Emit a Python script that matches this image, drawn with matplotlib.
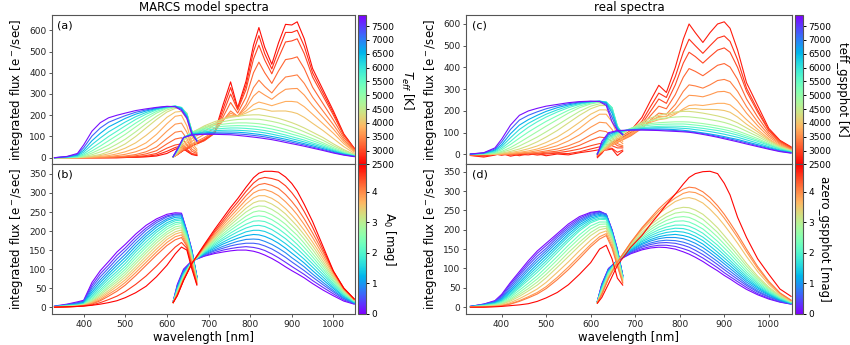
import matplotlib
matplotlib.use("Agg")
import matplotlib.pyplot as plt
from matplotlib import cm, colors

# sampling nodes of the BP and RP spectra (nm)
BP_WL = [330, 360, 385, 400, 420, 440, 460, 480, 500, 525, 550, 575, 600, 620, 635, 648, 660, 672]
RP_WL = [615, 625, 640, 660, 690, 715, 735, 753, 770, 790, 808, 821, 835, 852, 868, 885, 900, 913,
         930, 950, 975, 1000, 1025, 1050]

# (a) MARCS models, varying Teff
MARCS_TEFF = [2600, 2800, 3000, 3200, 3400, 3600, 3800, 4000, 4300, 4600, 4900, 5300, 5700, 6100,
              6600, 7200, 7800]
MARCS_TEFF_BP = [
    [0, 0, 0, 0, 0, 0, 0, 0, 1, 2, 4, 8, 20, 40, 50, 30, 15, 10],
    [0, 0, 0, 0, 0, 0, 0, 0, 1, 3, 6, 13, 30, 48, 56, 34, 17, 12],
    [0, 0, 0, 0, 0, 0, 0, 1, 2, 5, 10, 20, 45, 60, 65, 40, 20, 15],
    [0, 0, 0, 0, 0, 0, 1, 3, 5, 9, 18, 33, 65, 88, 94, 62, 30, 20],
    [0, 0, 0, 0, 0, 1, 2, 5, 8, 15, 28, 50, 90, 120, 125, 90, 40, 25],
    [0, 0, 0, 0, 1, 3, 5, 10, 16, 28, 46, 78, 125, 158, 163, 120, 55, 32],
    [0, 0, 0, 1, 3, 6, 10, 18, 28, 45, 70, 110, 160, 195, 200, 150, 70, 40],
    [0, 0, 0, 2, 5, 10, 18, 30, 45, 70, 105, 145, 190, 215, 218, 185, 100, 60],
    [0, 0, 1, 3, 8, 15, 28, 45, 65, 100, 140, 180, 215, 232, 232, 210, 125, 80],
    [0, 0, 2, 5, 14, 27, 43, 64, 87, 122, 160, 195, 225, 237, 234, 208, 125, 81],
    [0, 1, 3, 8, 22, 40, 60, 85, 110, 145, 180, 210, 232, 240, 235, 205, 125, 82],
    [0, 1, 4, 12, 32, 55, 80, 105, 130, 163, 193, 218, 235, 242, 236, 205, 125, 82],
    [0, 2, 6, 18, 45, 72, 100, 125, 150, 180, 205, 225, 238, 243, 237, 205, 125, 82],
    [0, 3, 9, 26, 62, 93, 122, 145, 168, 193, 213, 229, 239, 243, 235, 200, 122, 81],
    [0, 4, 12, 35, 80, 115, 145, 165, 185, 205, 220, 232, 240, 242, 232, 195, 120, 80],
    [0, 5, 16, 47, 102, 140, 167, 183, 198, 214, 225, 235, 241, 241, 228, 190, 115, 79],
    [0, 6, 20, 60, 125, 165, 188, 200, 210, 222, 230, 237, 242, 240, 222, 185, 110, 78],
]
MARCS_TEFF_RP = [
    [5, 15, 35, 55, 85, 120, 250, 357, 235, 360, 530, 613, 520, 440, 540, 628, 625, 640, 560, 420, 320, 220, 112, 45],
    [4, 15, 35, 55, 82, 118, 230, 330, 230, 340, 500, 575, 490, 418, 505, 590, 590, 600, 525, 400, 305, 210, 108, 44],
    [3, 15, 35, 55, 80, 115, 210, 300, 225, 320, 465, 530, 460, 395, 470, 545, 550, 560, 490, 380, 290, 200, 105, 42],
    [3, 15, 37, 60, 88, 120, 192, 260, 210, 285, 400, 450, 400, 350, 408, 462, 467, 475, 420, 332, 255, 178, 95, 38],
    [3, 15, 40, 65, 95, 125, 175, 220, 195, 250, 330, 365, 335, 305, 345, 380, 385, 390, 350, 285, 220, 155, 85, 34],
    [3, 16, 47, 77, 110, 140, 177, 210, 195, 235, 290, 313, 295, 275, 300, 322, 325, 326, 295, 245, 190, 135, 76, 31],
    [3, 18, 55, 90, 125, 155, 180, 200, 195, 220, 250, 262, 255, 245, 255, 265, 265, 262, 240, 205, 160, 115, 66, 27],
    [3, 21, 66, 102, 137, 162, 181, 195, 195, 210, 226, 232, 227, 219, 220, 220, 215, 208, 190, 162, 128, 90, 52, 21],
    [4, 25, 80, 118, 150, 170, 182, 190, 195, 200, 202, 202, 198, 192, 185, 175, 165, 155, 140, 120, 95, 65, 38, 16],
    [4, 28, 86, 119, 145, 161, 170, 176, 180, 182, 182, 181, 177, 171, 164, 154, 145, 136, 122, 105, 82, 56, 33, 14],
    [4, 30, 92, 120, 140, 152, 158, 162, 164, 164, 162, 160, 156, 150, 142, 133, 124, 116, 105, 90, 70, 48, 28, 12],
    [5, 33, 94, 118, 134, 143, 148, 150, 151, 150, 148, 145, 141, 135, 128, 120, 111, 104, 94, 80, 62, 42, 24, 10],
    [5, 35, 95, 115, 128, 135, 138, 140, 140, 138, 135, 132, 128, 122, 115, 107, 99, 92, 83, 70, 55, 37, 21, 9],
    [5, 37, 95, 112, 122, 127, 129, 130, 129, 127, 124, 121, 117, 111, 104, 97, 89, 83, 74, 63, 49, 33, 18, 8],
    [5, 38, 95, 110, 117, 120, 121, 121, 120, 117, 113, 110, 106, 100, 94, 87, 80, 74, 66, 56, 43, 29, 16, 7],
    [5, 39, 95, 108, 113, 115, 115, 114, 112, 109, 105, 102, 98, 92, 86, 79, 73, 67, 60, 50, 38, 25, 14, 6],
    [5, 40, 95, 107, 110, 110, 109, 108, 105, 101, 97, 94, 90, 85, 79, 72, 66, 61, 54, 45, 34, 22, 12, 5],
]

# (b) MARCS models, varying A0
MARCS_A0 = [0.0, 0.3, 0.6, 0.9, 1.2, 1.5, 1.8, 2.1, 2.4, 2.7, 3.0, 3.3, 3.6, 3.9, 4.2, 4.55, 4.9]
MARCS_A0_BP = [
    [3, 8, 14, 18, 65, 96, 120, 145, 165, 192, 215, 232, 244, 248, 247, 200, 150, 80],
    [2, 7, 12, 16, 58, 88, 111, 136, 156, 184, 208, 227, 240, 245, 245, 199, 149, 80],
    [2, 6, 11, 15, 52, 80, 103, 127, 148, 176, 202, 222, 237, 243, 243, 198, 148, 80],
    [2, 5, 9, 13, 46, 72, 95, 118, 139, 168, 194, 216, 232, 240, 240, 196, 146, 79],
    [2, 5, 8, 12, 40, 65, 88, 110, 131, 160, 187, 210, 228, 236, 237, 195, 145, 78],
    [1, 4, 7, 10, 35, 58, 81, 102, 123, 152, 180, 203, 222, 231, 233, 192, 142, 77],
    [1, 4, 6, 9, 30, 52, 74, 94, 115, 145, 172, 197, 217, 227, 229, 190, 140, 76],
    [1, 3, 5, 8, 26, 46, 67, 87, 107, 137, 164, 190, 211, 222, 224, 186, 137, 74],
    [1, 3, 5, 7, 22, 41, 61, 80, 100, 129, 157, 183, 205, 217, 220, 183, 135, 73],
    [1, 2, 4, 6, 19, 36, 55, 73, 93, 121, 149, 176, 198, 211, 214, 180, 131, 71],
    [1, 2, 4, 6, 16, 32, 50, 67, 86, 114, 142, 169, 192, 205, 209, 176, 128, 70],
    [0, 2, 3, 5, 14, 28, 44, 61, 79, 106, 134, 161, 185, 198, 203, 172, 124, 68],
    [0, 1, 3, 5, 12, 24, 39, 55, 72, 99, 126, 153, 178, 192, 197, 168, 120, 66],
    [0, 1, 2, 4, 10, 20, 34, 48, 65, 91, 118, 145, 170, 185, 190, 164, 116, 64],
    [0, 1, 2, 4, 8, 17, 29, 42, 58, 83, 110, 137, 162, 177, 183, 160, 112, 62],
    [0, 1, 2, 3, 6, 12, 20, 29, 41, 60, 82, 108, 136, 158, 170, 155, 106, 60],
    [0, 1, 2, 3, 5, 8, 12, 17, 25, 38, 55, 80, 110, 140, 158, 150, 100, 58],
]
MARCS_A0_RP = [
    [15, 60, 100, 122, 134, 141, 145, 148, 150, 150, 147, 143, 137, 128, 118, 106, 96, 88, 77, 62, 45, 30, 16, 8],
    [15, 57, 97, 121, 135, 144, 150, 154, 157, 159, 157, 154, 149, 140, 130, 118, 107, 98, 86, 70, 52, 35, 19, 9],
    [14, 55, 95, 121, 137, 148, 155, 161, 165, 168, 168, 166, 161, 153, 143, 131, 119, 109, 96, 79, 59, 40, 22, 10],
    [14, 52, 92, 120, 139, 151, 160, 167, 173, 178, 179, 178, 173, 165, 155, 143, 130, 120, 106, 87, 65, 44, 24, 11],
    [14, 50, 90, 120, 141, 155, 166, 174, 181, 188, 191, 190, 186, 178, 168, 155, 142, 131, 116, 96, 72, 49, 27, 12],
    [13, 48, 88, 119, 142, 159, 171, 181, 189, 198, 202, 202, 199, 191, 180, 167, 154, 142, 126, 105, 79, 53, 29, 13],
    [13, 46, 86, 119, 144, 163, 177, 188, 198, 208, 214, 215, 212, 204, 193, 180, 166, 154, 136, 114, 86, 58, 32, 14],
    [13, 44, 84, 118, 146, 167, 182, 195, 206, 218, 226, 227, 225, 217, 206, 192, 178, 165, 146, 123, 93, 62, 34, 15],
    [13, 42, 82, 118, 148, 171, 188, 202, 215, 229, 238, 240, 238, 230, 219, 205, 190, 177, 157, 132, 100, 67, 37, 16],
    [13, 40, 80, 117, 150, 175, 193, 209, 223, 239, 250, 253, 251, 243, 232, 218, 202, 189, 168, 141, 107, 71, 39, 17],
    [13, 39, 78, 117, 152, 179, 199, 216, 232, 250, 262, 266, 265, 257, 246, 231, 215, 201, 179, 151, 114, 76, 42, 18],
    [12, 37, 76, 116, 154, 183, 204, 223, 240, 260, 274, 279, 279, 271, 260, 245, 228, 213, 190, 161, 121, 80, 44, 18],
    [12, 36, 75, 116, 156, 187, 210, 230, 249, 271, 287, 293, 293, 286, 275, 259, 242, 226, 202, 171, 129, 85, 46, 19],
    [12, 34, 73, 115, 158, 191, 216, 238, 258, 282, 300, 307, 309, 303, 293, 277, 260, 243, 217, 183, 137, 89, 47, 20],
    [12, 33, 72, 115, 160, 196, 222, 246, 267, 293, 313, 322, 325, 320, 312, 296, 278, 260, 232, 195, 145, 93, 49, 21],
    [12, 31, 71, 115, 162, 200, 228, 254, 276, 304, 326, 337, 341, 338, 333, 319, 301, 282, 251, 210, 152, 94, 50, 21],
    [12, 30, 70, 115, 165, 205, 235, 262, 285, 315, 340, 352, 357, 357, 355, 342, 325, 305, 270, 225, 160, 95, 50, 22],
]

# (c) real spectra, coloured by teff_gspphot
REAL_TEFF = [2700, 2850, 3000, 3200, 3400, 3600, 3800, 4000, 4300, 4600, 4900, 5300, 5700, 6100,
             6600, 7200, 7800]
REAL_TEFF_BP = [
    [-5, -12, -3, 5, -8, 0, -2, 4, -6, 2, -2, 8, 15, 22, 20, 25, -5, 15],
    [-4, -8, 2, -4, 3, -6, 4, -3, 2, 6, 4, 12, 25, 35, 30, 28, 10, 20],
    [-3, -5, 0, 2, -3, 3, 5, 2, 6, 8, 15, 25, 40, 50, 45, 40, 30, 30],
    [-2, -2, 0, 1, 0, 3, 5, 6, 10, 15, 26, 42, 65, 80, 76, 60, 40, 35],
    [-2, 0, 0, 1, 2, 4, 6, 10, 16, 25, 40, 60, 90, 110, 105, 80, 50, 40],
    [-1, 0, 1, 2, 3, 7, 10, 17, 26, 40, 62, 90, 125, 148, 145, 115, 70, 50],
    [0, 0, 1, 2, 5, 10, 16, 25, 38, 58, 85, 120, 160, 185, 185, 150, 90, 60],
    [0, 1, 2, 4, 9, 16, 26, 39, 55, 80, 112, 148, 185, 205, 205, 175, 105, 72],
    [0, 1, 3, 6, 14, 25, 40, 58, 80, 110, 145, 180, 210, 225, 225, 200, 120, 85],
    [0, 2, 4, 10, 22, 39, 59, 80, 104, 135, 167, 198, 222, 233, 232, 208, 125, 88],
    [0, 2, 6, 14, 32, 55, 80, 105, 130, 160, 190, 215, 232, 240, 238, 215, 130, 90],
    [1, 3, 9, 21, 46, 75, 103, 128, 152, 178, 203, 223, 236, 243, 240, 215, 130, 92],
    [1, 4, 12, 28, 60, 95, 125, 150, 172, 195, 215, 230, 240, 245, 242, 215, 130, 95],
    [1, 5, 16, 36, 77, 115, 143, 165, 185, 205, 222, 234, 242, 245, 240, 203, 125, 93],
    [1, 6, 20, 45, 95, 135, 160, 180, 198, 215, 228, 238, 243, 245, 238, 190, 120, 92],
    [2, 7, 25, 57, 115, 158, 180, 196, 210, 223, 233, 241, 244, 244, 232, 170, 115, 91],
    [2, 8, 30, 70, 135, 180, 200, 212, 222, 230, 238, 243, 245, 243, 225, 150, 110, 90],
]
REAL_TEFF_RP = [
    [-15, 5, 45, 70, 110, 170, 250, 318, 285, 400, 530, 600, 560, 515, 560, 600, 610, 580, 480, 330, 225, 120, 65, 35],
    [-10, 8, 42, 66, 102, 152, 222, 282, 262, 358, 470, 530, 500, 465, 500, 535, 545, 520, 435, 305, 205, 112, 62, 32],
    [-8, 10, 40, 62, 95, 140, 200, 255, 235, 320, 420, 470, 450, 420, 450, 480, 490, 470, 400, 290, 195, 110, 60, 30],
    [-5, 12, 37, 58, 90, 130, 180, 222, 210, 275, 355, 395, 382, 362, 385, 410, 418, 402, 345, 255, 172, 100, 55, 28],
    [-3, 14, 35, 55, 85, 120, 160, 190, 185, 230, 290, 320, 315, 305, 320, 340, 345, 335, 290, 220, 150, 90, 50, 25],
    [-1, 14, 35, 57, 90, 122, 154, 175, 175, 208, 250, 272, 270, 265, 275, 288, 290, 282, 245, 190, 132, 81, 45, 22],
    [0, 15, 35, 60, 95, 125, 148, 160, 165, 185, 210, 225, 228, 225, 230, 235, 235, 228, 200, 160, 115, 72, 40, 20],
    [2, 17, 40, 70, 106, 136, 158, 170, 176, 190, 204, 211, 211, 207, 207, 206, 202, 194, 172, 139, 104, 67, 38, 19],
    [3, 20, 45, 80, 118, 148, 168, 180, 188, 195, 198, 198, 195, 190, 184, 177, 169, 160, 145, 122, 93, 62, 36, 18],
    [4, 22, 52, 88, 119, 142, 155, 163, 168, 172, 174, 173, 170, 166, 160, 154, 147, 139, 126, 107, 83, 56, 33, 16],
    [5, 25, 60, 95, 120, 135, 142, 146, 148, 150, 150, 149, 146, 142, 137, 131, 125, 119, 108, 93, 73, 50, 30, 15],
    [5, 27, 67, 98, 118, 129, 135, 138, 139, 140, 140, 138, 135, 131, 126, 120, 114, 108, 98, 84, 66, 46, 27, 13],
    [5, 30, 75, 100, 115, 123, 127, 129, 130, 130, 129, 127, 124, 120, 115, 110, 104, 98, 89, 76, 60, 42, 25, 12],
    [4, 35, 82, 103, 114, 119, 122, 123, 123, 122, 120, 118, 114, 110, 105, 99, 93, 87, 79, 67, 52, 36, 21, 10],
    [3, 40, 90, 107, 113, 116, 117, 117, 116, 114, 111, 108, 104, 99, 94, 88, 82, 76, 69, 58, 45, 31, 18, 9],
    [2, 50, 95, 108, 112, 114, 114, 113, 112, 110, 107, 105, 101, 96, 90, 83, 77, 71, 63, 53, 40, 27, 15, 7],
    [0, 60, 100, 110, 112, 112, 111, 110, 108, 106, 104, 102, 98, 92, 86, 79, 72, 66, 58, 48, 36, 24, 13, 6],
]

# (d) real spectra, coloured by azero_gspphot
REAL_A0 = [0.05, 0.3, 0.5, 0.75, 1.0, 1.25, 1.5, 1.75, 2.0, 2.3, 2.6, 2.9, 3.2, 3.55, 3.9, 4.1, 4.85]
REAL_A0_BP = [
    [2, 8, 17, 33, 64, 92, 120, 145, 165, 190, 215, 234, 245, 248, 240, 200, 150, 82],
    [2, 8, 15, 30, 60, 87, 114, 139, 159, 185, 210, 230, 243, 247, 240, 199, 149, 82],
    [2, 7, 14, 27, 55, 82, 108, 132, 152, 180, 205, 226, 240, 245, 240, 198, 148, 82],
    [2, 6, 13, 24, 50, 76, 101, 125, 146, 174, 200, 222, 237, 243, 238, 196, 146, 81],
    [2, 6, 12, 22, 45, 70, 95, 118, 140, 168, 195, 218, 234, 240, 236, 195, 145, 80],
    [1, 5, 11, 19, 41, 64, 88, 111, 133, 161, 189, 213, 230, 237, 234, 193, 143, 79],
    [1, 5, 10, 17, 37, 59, 82, 104, 126, 155, 183, 208, 226, 234, 232, 192, 142, 78],
    [1, 4, 9, 15, 33, 54, 76, 97, 119, 148, 176, 202, 222, 230, 229, 190, 140, 77],
    [1, 4, 8, 14, 30, 50, 70, 90, 112, 141, 170, 197, 218, 227, 226, 188, 138, 76],
    [1, 3, 7, 12, 26, 44, 62, 81, 103, 131, 160, 187, 210, 220, 220, 184, 135, 74],
    [1, 3, 6, 10, 22, 38, 55, 73, 94, 122, 151, 178, 202, 214, 215, 180, 132, 73],
    [1, 2, 5, 8, 19, 33, 48, 65, 85, 112, 141, 168, 193, 207, 209, 176, 128, 71],
    [0, 2, 4, 7, 16, 28, 42, 57, 76, 103, 131, 159, 185, 200, 204, 172, 125, 70],
    [0, 1, 3, 5, 12, 22, 34, 47, 64, 90, 117, 146, 173, 191, 197, 165, 117, 67],
    [0, 1, 2, 4, 9, 17, 27, 38, 53, 77, 104, 133, 162, 182, 190, 158, 110, 64],
    [0, 1, 2, 3, 8, 15, 24, 34, 48, 71, 97, 126, 156, 176, 185, 152, 106, 62],
    [0, 0, 1, 2, 4, 6, 9, 15, 24, 38, 58, 85, 115, 150, 160, 125, 75, 57],
]
REAL_A0_RP = [
    [15, 60, 100, 120, 138, 148, 153, 155, 154, 150, 143, 137, 129, 118, 106, 94, 82, 73, 60, 46, 32, 21, 13, 8],
    [15, 58, 99, 120, 140, 151, 157, 160, 160, 157, 151, 146, 138, 127, 115, 102, 89, 79, 66, 51, 35, 23, 14, 8],
    [15, 57, 98, 121, 142, 155, 162, 166, 167, 165, 160, 155, 147, 136, 124, 110, 97, 86, 72, 56, 39, 26, 16, 9],
    [14, 55, 96, 121, 144, 158, 166, 171, 173, 172, 168, 163, 156, 145, 132, 118, 104, 93, 78, 60, 42, 28, 17, 9],
    [14, 53, 95, 121, 146, 162, 171, 177, 180, 180, 177, 172, 165, 154, 141, 126, 112, 100, 84, 65, 46, 31, 18, 10],
    [14, 51, 93, 121, 148, 165, 175, 182, 186, 188, 185, 181, 174, 163, 149, 134, 119, 107, 90, 70, 50, 33, 19, 10],
    [14, 50, 92, 121, 150, 169, 180, 188, 193, 196, 194, 190, 183, 172, 158, 142, 127, 114, 96, 75, 53, 35, 21, 11],
    [13, 48, 90, 120, 152, 172, 185, 194, 200, 204, 203, 199, 192, 181, 167, 151, 135, 121, 102, 80, 57, 37, 22, 11],
    [13, 46, 89, 120, 154, 176, 190, 200, 207, 212, 212, 209, 202, 191, 176, 160, 143, 129, 109, 86, 61, 40, 24, 12],
    [13, 44, 87, 120, 156, 180, 195, 207, 215, 222, 223, 220, 213, 202, 187, 170, 153, 138, 117, 92, 65, 43, 25, 13],
    [13, 42, 85, 119, 158, 184, 201, 214, 224, 232, 234, 232, 225, 214, 199, 181, 163, 147, 125, 99, 70, 46, 27, 14],
    [12, 40, 83, 118, 160, 188, 207, 221, 233, 243, 246, 244, 238, 227, 211, 193, 174, 157, 134, 106, 75, 49, 28, 14],
    [12, 38, 80, 118, 162, 193, 213, 229, 242, 254, 258, 257, 251, 240, 224, 205, 185, 167, 143, 113, 80, 52, 30, 15],
    [12, 35, 77, 117, 165, 199, 222, 241, 257, 273, 281, 283, 279, 269, 253, 233, 212, 192, 165, 131, 92, 59, 33, 16],
    [11, 33, 74, 116, 167, 203, 227, 248, 265, 282, 294, 298, 296, 287, 272, 252, 230, 209, 180, 143, 100, 64, 36, 18],
    [11, 33, 74, 116, 167, 205, 231, 254, 272, 292, 305, 310, 308, 298, 283, 262, 240, 218, 188, 150, 105, 67, 37, 18],
    [10, 25, 60, 108, 155, 185, 215, 240, 265, 292, 318, 335, 345, 350, 351, 345, 320, 290, 232, 180, 125, 85, 47, 28],
]

TEFF_RANGE = (2500, 7900)
A0_RANGE = (0, 4.9)
LABEL_SIZE = 8.5
TICK_SIZE = 6.5
FRAME = "#555555"


def _style(ax):
    for spine in ax.spines.values():
        spine.set_color(FRAME)
        spine.set_linewidth(0.8)
    ax.tick_params(labelsize=TICK_SIZE, colors=FRAME, labelcolor="#222222",
                   width=0.7, length=2.5, pad=1.5)


def draw_panel(ax, cax, params, bp, rp, cmap, vrange, xlim, letter, clabel, ticks):
    norm = colors.Normalize(*vrange)
    sm = cm.ScalarMappable(norm=norm, cmap=cmap)
    for p, fbp, frp in zip(params, bp, rp):
        c = sm.to_rgba(p)
        ax.plot(BP_WL, fbp, color=c, lw=0.8)
        ax.plot(RP_WL, frp, color=c, lw=0.8)
    ax.set_xlim(*xlim)
    ax.set_ylabel("integrated flux [e$^-$/sec]", fontsize=LABEL_SIZE, labelpad=3)
    ax.text(0.018, 0.965, letter, transform=ax.transAxes, ha="left", va="top", fontsize=8)
    _style(ax)
    cb = plt.colorbar(sm, cax=cax)
    cb.set_ticks(ticks)
    cb.ax.tick_params(labelsize=TICK_SIZE, width=0.7, length=2.5, pad=1.5)
    cb.outline.set_edgecolor(FRAME)
    cb.set_label(clabel, rotation=270, va="bottom", fontsize=LABEL_SIZE, labelpad=3)


fig = plt.figure(figsize=(8.5, 3.45), dpi=100)
ax_a = fig.add_axes([0.0612, 0.5232, 0.3565, 0.4333])
ax_b = fig.add_axes([0.0612, 0.0899, 0.3565, 0.4333])
ax_c = fig.add_axes([0.5482, 0.5232, 0.3835, 0.4333])
ax_d = fig.add_axes([0.5482, 0.0899, 0.3835, 0.4333])
cax_a = fig.add_axes([0.4212, 0.5232, 0.0094, 0.4333])
cax_b = fig.add_axes([0.4212, 0.0899, 0.0094, 0.4333])
cax_c = fig.add_axes([0.9353, 0.5232, 0.0094, 0.4333])
cax_d = fig.add_axes([0.9353, 0.0899, 0.0094, 0.4333])

teff_ticks = list(range(2500, 7501, 500))
a0_ticks = [0, 1, 2, 3, 4]

draw_panel(ax_a, cax_a, MARCS_TEFF, MARCS_TEFF_BP, MARCS_TEFF_RP, "rainbow_r", TEFF_RANGE,
           (324, 1052), "(a)", r"$T_{eff}$ [K]", teff_ticks)
draw_panel(ax_b, cax_b, MARCS_A0, MARCS_A0_BP, MARCS_A0_RP, "rainbow", A0_RANGE,
           (324, 1052), "(b)", r"A$_0$ [mag]", a0_ticks)
draw_panel(ax_c, cax_c, REAL_TEFF, REAL_TEFF_BP, REAL_TEFF_RP, "rainbow_r", TEFF_RANGE,
           (320, 1052), "(c)", "teff_gspphot [K]", teff_ticks)
draw_panel(ax_d, cax_d, REAL_A0, REAL_A0_BP, REAL_A0_RP, "rainbow", A0_RANGE,
           (320, 1052), "(d)", "azero_gspphot [mag]", a0_ticks)

wl_ticks = [400, 500, 600, 700, 800, 900, 1000]
for ax in (ax_a, ax_c):
    ax.set_xticks(wl_ticks)
    ax.set_xticklabels([])
for ax in (ax_b, ax_d):
    ax.set_xticks(wl_ticks)
    ax.set_xlabel("wavelength [nm]", fontsize=LABEL_SIZE, labelpad=1.5)

ax_a.set_yticks([0, 100, 200, 300, 400, 500, 600])
ax_c.set_yticks([0, 100, 200, 300, 400, 500, 600])
ax_b.set_yticks(list(range(0, 351, 50)))
ax_d.set_yticks(list(range(0, 351, 50)))

ax_a.set_title("MARCS model spectra", fontsize=LABEL_SIZE, pad=3)
ax_c.set_title("real spectra", fontsize=LABEL_SIZE, pad=3)

fig.savefig("out.png", dpi=100)
